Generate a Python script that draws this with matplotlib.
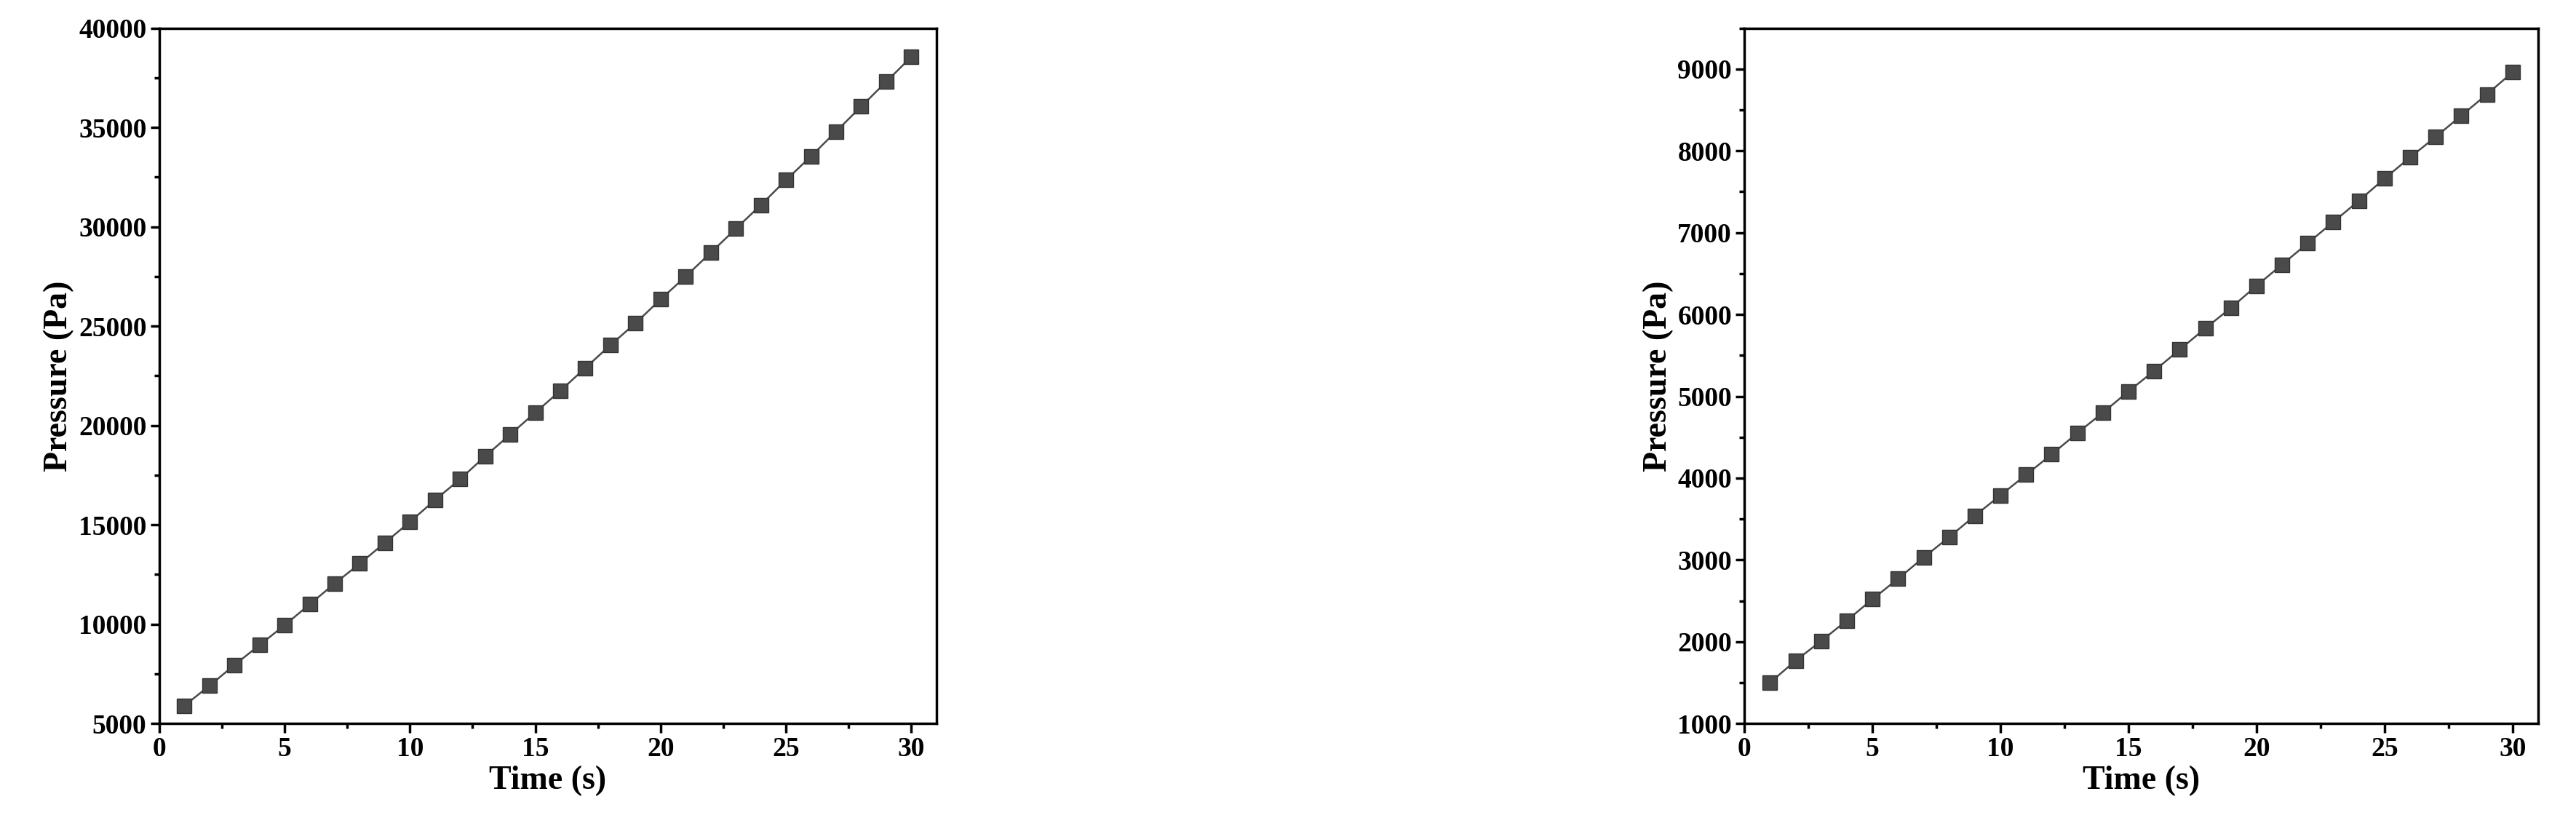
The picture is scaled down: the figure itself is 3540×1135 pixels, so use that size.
import numpy as np
import matplotlib.pyplot as plt
from matplotlib.ticker import MultipleLocator

time_s = list(range(1, 31))
pressure_left = [5900, 6900, 7950, 8950, 9950, 11000, 12050, 13050, 14100, 15150,
                 16250, 17300, 18450, 19550, 20650, 21750, 22900, 24050, 25150, 26350,
                 27500, 28700, 29900, 31100, 32350, 33550, 34800, 36050, 37300, 38550]
pressure_right = [1500, 1770, 2010, 2260, 2520, 2770, 3030, 3280, 3540, 3790,
                  4040, 4290, 4550, 4800, 5060, 5310, 5570, 5830, 6080, 6350,
                  6610, 6870, 7130, 7390, 7660, 7920, 8170, 8430, 8690, 8960]

plt.rcParams['font.family'] = ['Liberation Serif', 'DejaVu Serif']
plt.rcParams['font.weight'] = 'bold'

fig = plt.figure(figsize=(35.41, 11.35), dpi=100)
ax1 = fig.add_axes([0.0618, 0.124, 0.3016, 0.842])
ax2 = fig.add_axes([0.677, 0.124, 0.308, 0.842])

setups = [
    (ax1, pressure_left, (5000, 40000), 5000),
    (ax2, pressure_right, (1000, 9500), 1000),
]
for ax, vals, ylim, ystep in setups:
    ax.plot(time_s, vals, color='#4a4a4a', lw=1.8, marker='s', ms=14,
            markerfacecolor='#4a4a4a', markeredgecolor='#333333')
    ax.set_xlim(0, 31)
    ax.set_ylim(*ylim)
    ax.xaxis.set_major_locator(MultipleLocator(5))
    ax.xaxis.set_minor_locator(MultipleLocator(2.5))
    ax.yaxis.set_major_locator(MultipleLocator(ystep))
    ax.yaxis.set_minor_locator(MultipleLocator(ystep / 2))
    ax.tick_params(which='major', length=9, width=2.5, labelsize=27)
    ax.tick_params(which='minor', length=5, width=2.5)
    for lbl in ax.get_xticklabels() + ax.get_yticklabels():
        lbl.set_fontweight('bold')
    for s in ax.spines.values():
        s.set_linewidth(2.5)
    ax.set_xlabel('Time (s)', fontsize=33, fontweight='bold')
    ax.set_ylabel('Pressure (Pa)', fontsize=33, fontweight='bold')

fig.savefig('out.png', dpi=100)
